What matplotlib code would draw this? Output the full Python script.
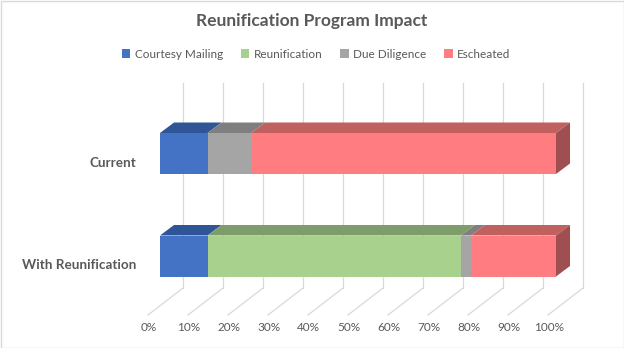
import matplotlib
matplotlib.use("Agg")
import matplotlib.pyplot as plt
from matplotlib.patches import Polygon, Patch
import numpy as np

# ---- data ----
categories = ["Current", "With Reunification"]
series_names = ["Courtesy Mailing", "Reunification", "Due Diligence", "Escheated"]
courtesy_mailing = [12, 12]
reunification = [0, 64]
due_diligence = [11, 2.5]
escheated = [77, 21.5]
tick_values = [0, 10, 20, 30, 40, 50, 60, 70, 80, 90, 100]
tick_labels = [f"{v}%" for v in tick_values]

front_colors = ["#4472C4", "#A9D18E", "#A5A5A5", "#FF7C80"]
top_colors = ["#2F5597", "#7F9C6B", "#7F7F7F", "#C0605F"]
side_colors = ["#2A4A80", "#6E8A5C", "#6F6F6F", "#A04F50"]

TEXT = "#595959"
GRID = "#D9D9D9"
FONT = "Lato"

W, H = 624, 348
fig = plt.figure(figsize=(W / 100, H / 100), dpi=100)
fig.patch.set_facecolor("white")

ax = fig.add_axes([0, 0, 1, 1])
ax.set_axis_off()
# x: fraction of total (0..1) -> bar front; y: category index
X0, XS = 160, 396.0       # bar front origin / scale (pixels)
Y0, YS = 153.5, 102.5     # category 0 centre / spacing (pixels)
ax.set_xlim(-X0 / XS, (W - X0) / XS)
ax.set_ylim((H - Y0) / YS, -Y0 / YS)

BAR_H = 0.40
DX, DY = 0.0354, -0.1024           # bar depth offset
WALL_DX = 0.0581                    # back-wall offset from bar front
WALL_SCALE = 400 / 396
WALL_TOP, WALL_BOT = -0.688, 1.312
FLOOR_DX, FLOOR_Y = -0.0303, 1.576
TICK_Y = 1.70

# gridlines on back wall and floor
for v, lab in zip(tick_values, tick_labels):
    f = v / 100
    xb = WALL_DX + f * WALL_SCALE
    xf = FLOOR_DX + f * WALL_SCALE
    ax.plot([xb, xb], [WALL_TOP, WALL_BOT], color=GRID, lw=0.9, zorder=1)
    ax.plot([xb, xf], [WALL_BOT, FLOOR_Y], color=GRID, lw=0.9, zorder=1)
    ax.text(xf + 0.002, TICK_Y, lab, ha="center", va="center",
            fontsize=8.5, color=TEXT, family=FONT)

series = [courtesy_mailing, reunification, due_diligence, escheated]
data = np.array(series, dtype=float) / 100.0
ypos = np.arange(len(categories))
cum = np.zeros(len(categories))
for i, vals in enumerate(data):
    ax.barh(ypos, vals, left=cum, height=BAR_H, color=front_colors[i],
            edgecolor="none", zorder=3)
    for j, (l, w) in enumerate(zip(cum, vals)):
        if w <= 0:
            continue
        top = ypos[j] - BAR_H / 2
        poly = Polygon([(l, top), (l + w, top), (l + w + DX, top + DY),
                        (l + DX, top + DY)], closed=True,
                       facecolor=top_colors[i], edgecolor="none", zorder=3)
        ax.add_patch(poly)
    cum = cum + vals

# right side faces of the last segment
totals = cum
for j, R in enumerate(totals):
    top = ypos[j] - BAR_H / 2
    bot = ypos[j] + BAR_H / 2
    last = max(i for i in range(len(data)) if data[i][j] > 0)
    ax.add_patch(Polygon([(R, top), (R, bot), (R + DX, bot + DY), (R + DX, top + DY)],
                         closed=True, facecolor=side_colors[last],
                         edgecolor="none", zorder=4))

# category labels
for j, c in enumerate(categories):
    ax.text(-24 / XS, ypos[j] + 0.09, c, ha="right", va="center",
            fontsize=9.7, fontweight="bold", color=TEXT, family=FONT)

# title
fig.text(0.5, 1 - 21 / H, "Reunification Program Impact", ha="center",
         va="center", fontsize=12.5, fontweight="bold", color=TEXT, family=FONT)

# legend
handles = [Patch(facecolor=c, edgecolor="none") for c in front_colors]
leg = fig.legend(handles, series_names, loc="center", ncol=4,
                 bbox_to_anchor=(0.507, 1 - 54 / H), frameon=False,
                 prop={"family": FONT, "size": 8.5}, handlelength=0.7,
                 handleheight=0.7, handletextpad=0.4, columnspacing=1.5)
for t in leg.get_texts():
    t.set_color(TEXT)

# chart border
fig.add_artist(plt.Rectangle((0.5 / W, 0.5 / H), 1 - 1 / W, 1 - 1 / H,
                             transform=fig.transFigure, fill=False,
                             edgecolor=GRID, lw=1))

fig.savefig("out.png", dpi=100, facecolor="white")
